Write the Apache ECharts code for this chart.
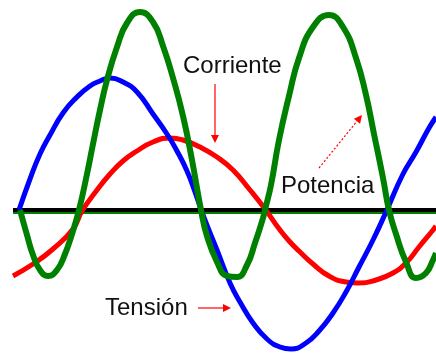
<!DOCTYPE html>
<html>
<head>
<meta charset="utf-8">
<script src="https://cdn.jsdelivr.net/npm/echarts@6/dist/echarts.min.js"></script>
<style>
  html, body { margin: 0; padding: 0; background: #fff; }
  #chart { width: 436px; height: 353px; }
</style>
</head>
<body>
<div id="chart"></div>
<script>
// Valores: [x, valor] con el eje horizontal en 0
const tension = [
  [19, 0], [30, 31], [40, 56], [50, 75], [63, 97], [77, 113], [90, 124], [100, 129],
  [110, 132], [123, 128], [137, 118], [153, 96], [167, 76], [177, 59], [187, 39],
  [195, 18], [203, -5], [217, -40], [230, -73], [240, -92], [253, -113], [267, -129],
  [280, -137], [291, -139], [306, -133], [319, -121], [333, -103], [346, -82],
  [359, -57], [373, -30], [386, -2], [403, 36], [416, 58], [429, 82], [436, 93]
]
const corriente = [
  [13, -66], [33, -54], [53, -39], [73, -19], [82, -1], [97, 20], [110, 36], [123, 49],
  [137, 59], [153, 68], [170, 72], [183, 70], [200, 63], [217, 53], [233, 40],
  [250, 20], [265, 1], [280, -20], [290, -32], [299, -41], [313, -54], [329, -66],
  [346, -72], [359, -73], [376, -70], [393, -63], [406, -53], [419, -37], [433, -20], [436, -16]
]
const potencia = [
  [20, 0], [27, -25], [33, -45], [40, -60], [48, -66], [57, -60], [65, -44], [72, -24],
  [79, 0], [87, 36], [93, 66], [100, 100], [107, 130], [117, 163], [127, 187], [140, 198],
  [153, 188], [163, 164], [173, 132], [183, 94], [192, 50], [201, 0], [207, -26],
  [217, -52], [227, -66], [237, -67], [247, -55], [255, -33], [263, -8], [265, 0],
  [271, 25], [279, 70], [289, 114], [299, 152], [313, 183], [329, 195], [343, 183],
  [356, 152], [366, 115], [374, 76], [383, 32], [389, 0], [396, -24], [406, -52],
  [416, -68], [426, -63], [433, -50], [436, -43]
]
const eje = [[13, 0], [436, 0]]
const etiquetas = ['Corriente', 'Tensión', 'Potencia']

const chart = echarts.init(document.getElementById('chart'))

const texto = (t, x, y) => ({
  type: 'text',
  x, y,
  style: { text: t, font: '24px "Liberation Sans", Arial, sans-serif', fill: '#111', verticalAlign: 'middle' }
})

// flecha roja fina con punta triangular
const flecha = (x1, y1, x2, y2, dash) => {
  const a = Math.atan2(y2 - y1, x2 - x1)
  const L = 8, W = 4
  const bx = x2 - L * Math.cos(a), by = y2 - L * Math.sin(a)
  return [
    { type: 'line', shape: { x1, y1, x2: bx, y2: by }, style: { stroke: '#ff0000', lineWidth: 1.2, lineDash: dash ? [2, 2] : null } },
    { type: 'polygon', shape: { points: [[x2, y2], [bx - W * Math.sin(a), by + W * Math.cos(a)], [bx + W * Math.sin(a), by - W * Math.cos(a)]] }, style: { fill: '#ff0000' } }
  ]
}

chart.setOption({
  animation: false,
  grid: { left: 13, right: 0, top: 0, bottom: 0 },
  xAxis: { type: 'value', min: 13, max: 436, show: false },
  yAxis: { type: 'value', min: -143, max: 210, show: false },
  series: [
    { name: 'base', type: 'line', data: eje.map(p => [p[0], -3]), symbol: 'none', lineStyle: { color: '#008000', width: 2 }, silent: true },
    { name: 'eje', type: 'line', data: eje, symbol: 'none', lineStyle: { color: '#000000', width: 4 }, silent: true },
    { name: 'Corriente', type: 'line', data: corriente, smooth: 0.5, symbol: 'none', lineStyle: { color: '#ff0000', width: 5 } },
    { name: 'Tensión', type: 'line', data: tension, smooth: 0.5, symbol: 'none', lineStyle: { color: '#0000ff', width: 5 } },
    { name: 'Potencia', type: 'line', data: potencia, smooth: 0.5, symbol: 'none', lineStyle: { color: '#008000', width: 6 } }
  ],
  graphic: [
    texto(etiquetas[0], 183, 66),
    texto(etiquetas[1], 105, 308),
    texto(etiquetas[2], 281, 186),
    ...flecha(215, 84, 215, 143, false),
    ...flecha(198, 308, 231, 308, false),
    ...flecha(319, 168, 362, 115, true)
  ]
})
</script>
</body>
</html>
